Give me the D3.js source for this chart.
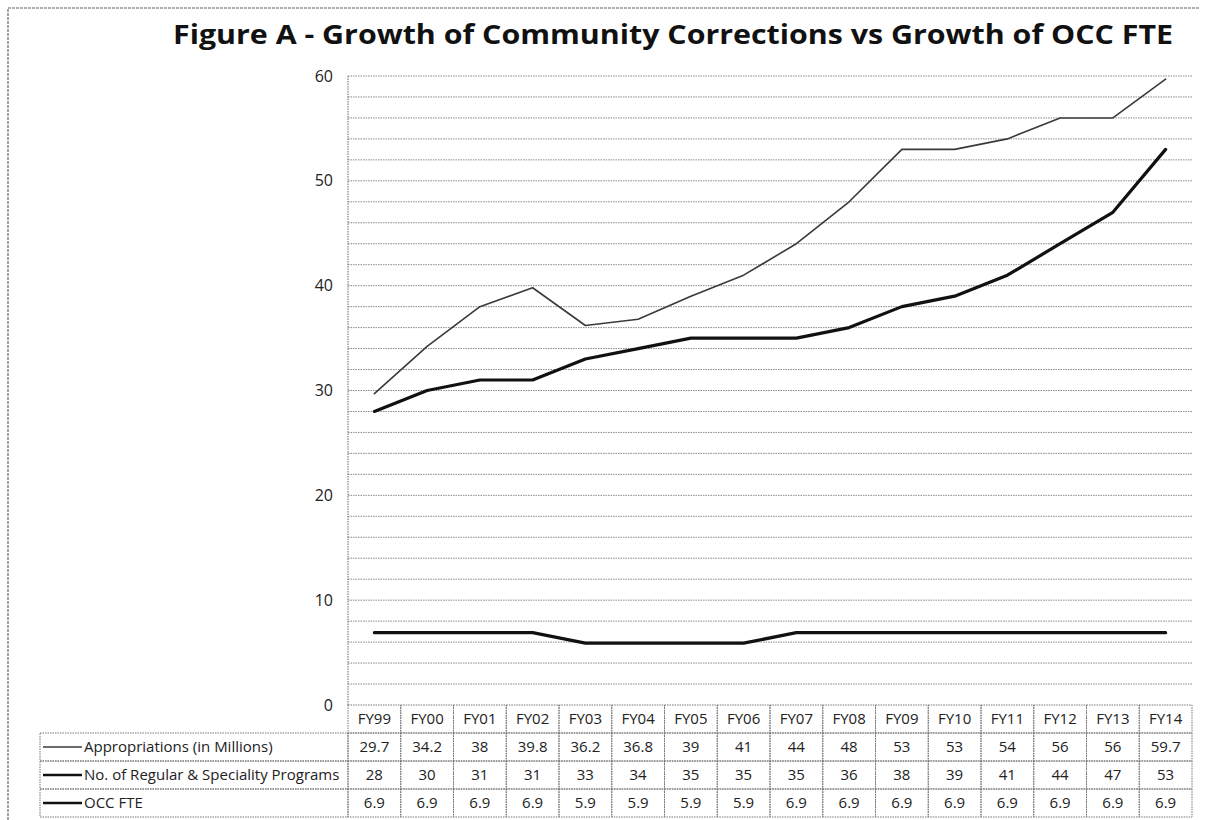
<!DOCTYPE html>
<html>
<head>
<meta charset="utf-8">
<script src="https://cdn.jsdelivr.net/npm/d3@7/dist/d3.min.js"></script>
<style>
  html, body { margin: 0; padding: 0; background: #fff; }
  svg { display: block; font-family: "Open Sans", Lato, sans-serif; }
</style>
</head>
<body>
<svg id="chart" width="1206" height="820"></svg>
<script>
// Fiscal years along the category axis
const years = ["FY99","FY00","FY01","FY02","FY03","FY04","FY05","FY06",
               "FY07","FY08","FY09","FY10","FY11","FY12","FY13","FY14"];

// Series values
const appropriations = [29.7,34.2,38,39.8,36.2,36.8,39,41,44,48,53,53,54,56,56,59.7];
const programs       = [28,30,31,31,33,34,35,35,35,36,38,39,41,44,47,53];
const occFte         = [6.9,6.9,6.9,6.9,5.9,5.9,5.9,5.9,6.9,6.9,6.9,6.9,6.9,6.9,6.9,6.9];

// Series names as shown in the data table
const seriesNames = ["Appropriations (in Millions)",
                     "No. of Regular & Speciality Programs",
                     "OCC FTE"];

// Value axis ticks and minor gridlines
const yTicks = [0,10,20,30,40,50,60];
const gridValues = d3.range(0, 61, 2);

const series = [
  { name: seriesNames[0], values: appropriations, color: "#3a3a3a", width: 1.6 },
  { name: seriesNames[1], values: programs,       color: "#111",    width: 3.2 },
  { name: seriesNames[2], values: occFte,         color: "#111",    width: 3.2 }
];

const svg = d3.select("#chart");

// Outer frame (top and left edges)
svg.append("path")
  .attr("d", "M8,820 V8 H1200")
  .attr("fill", "none")
  .attr("stroke", "#666")
  .attr("stroke-width", 1.2)
  .attr("stroke-dasharray", "3,1");

// Title, stretched across the chart width
svg.append("text")
  .attr("x", 673).attr("y", 44)
  .attr("text-anchor", "middle")
  .attr("font-size", 26)
  .attr("font-weight", "bold")
  .attr("fill", "#111")
  .attr("textLength", 1000)
  .attr("lengthAdjust", "spacingAndGlyphs")
  .text("Figure A - Growth of Community Corrections vs Growth of OCC FTE");

const plot = { left: 348, right: 1192, top: 76, bottom: 705 };

const x = d3.scaleBand().domain(years).range([plot.left, plot.right]);
const y = d3.scaleLinear().domain([0, 60]).range([plot.bottom, plot.top]);
const cx = d => x(d) + x.bandwidth() / 2;

// Horizontal gridlines
svg.append("g")
  .selectAll("line")
  .data(gridValues.filter(v => v > 0))
  .join("line")
  .attr("x1", plot.left).attr("x2", plot.right)
  .attr("y1", d => y(d)).attr("y2", d => y(d))
  .attr("stroke", "#8a8a8a")
  .attr("stroke-width", 1)
  .attr("stroke-dasharray", "1.5,1");

// Left edge of plot area
svg.append("line")
  .attr("x1", plot.left).attr("x2", plot.left)
  .attr("y1", plot.top).attr("y2", plot.bottom)
  .attr("stroke", "#666")
  .attr("stroke-dasharray", "1.5,1");

// Value axis labels
const yAxis = d3.axisLeft(y).tickValues(yTicks).tickSize(0).tickPadding(15);
const yg = svg.append("g")
  .attr("transform", `translate(${plot.left},0)`)
  .call(yAxis);
yg.select(".domain").remove();
yg.selectAll("text")
  .attr("font-family", "'Open Sans', Lato, sans-serif")
  .attr("font-size", 16)
  .attr("fill", "#222");

// Series lines
const line = d3.line()
  .x((d, i) => cx(years[i]))
  .y(d => y(d));

svg.append("g")
  .selectAll("path")
  .data(series)
  .join("path")
  .attr("d", d => line(d.values))
  .attr("fill", "none")
  .attr("stroke", d => d.color)
  .attr("stroke-width", d => d.width)
  .attr("stroke-linejoin", "round")
  .attr("stroke-linecap", "round");

// Data table below the plot
const rowH = 28;
const tableTop = plot.bottom;
const legendLeft = 40;
const gridStroke = "#777";
const fontSize = 15;
const table = svg.append("g");

// Header row with year labels
years.forEach(yr => {
  table.append("rect")
    .attr("x", x(yr)).attr("y", tableTop)
    .attr("width", x.bandwidth()).attr("height", rowH)
    .attr("fill", "none").attr("stroke", gridStroke)
    .attr("stroke-dasharray", "1.5,1");
  table.append("text")
    .attr("x", cx(yr)).attr("y", tableTop + rowH / 2 + 5)
    .attr("text-anchor", "middle")
    .attr("font-size", fontSize).attr("fill", "#222")
    .text(yr);
});

// One row per series
series.forEach((s, r) => {
  const rowY = tableTop + rowH * (r + 1);
  table.append("rect")
    .attr("x", legendLeft).attr("y", rowY)
    .attr("width", plot.left - legendLeft).attr("height", rowH)
    .attr("fill", "none").attr("stroke", gridStroke)
    .attr("stroke-dasharray", "1.5,1");
  table.append("line")
    .attr("x1", legendLeft + 3).attr("x2", legendLeft + 42)
    .attr("y1", rowY + rowH / 2).attr("y2", rowY + rowH / 2)
    .attr("stroke", s.color)
    .attr("stroke-width", s.width * 0.8);
  table.append("text")
    .attr("x", legendLeft + 44).attr("y", rowY + rowH / 2 + 5)
    .attr("font-size", fontSize).attr("fill", "#222")
    .text(s.name);
  s.values.forEach((v, i) => {
    table.append("rect")
      .attr("x", x(years[i])).attr("y", rowY)
      .attr("width", x.bandwidth()).attr("height", rowH)
      .attr("fill", "none").attr("stroke", gridStroke)
      .attr("stroke-dasharray", "1.5,1");
    table.append("text")
      .attr("x", cx(years[i])).attr("y", rowY + rowH / 2 + 5)
      .attr("text-anchor", "middle")
      .attr("font-size", fontSize).attr("fill", "#222")
      .text(v);
  });
});
</script>
</body>
</html>
